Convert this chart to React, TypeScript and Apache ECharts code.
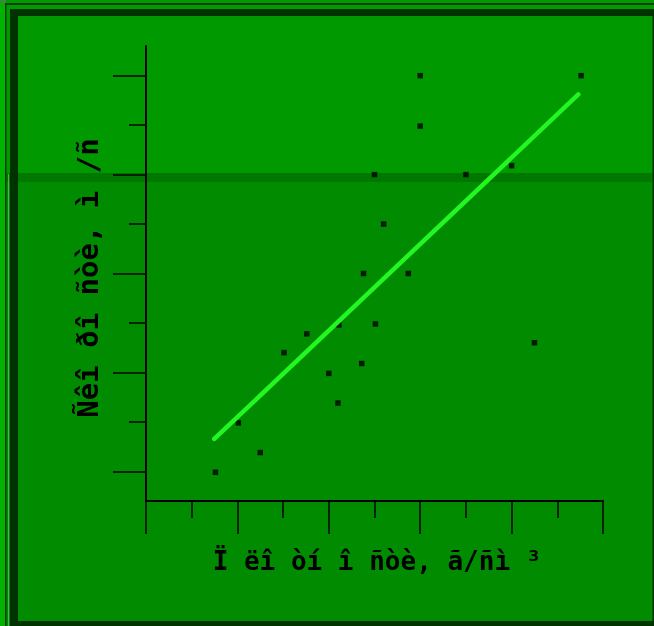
import React, { useEffect, useRef } from "react";
import * as echarts from "echarts";

// Scatter data: x (density), y (velocity), arbitrary units
const pointX = [3.0, 4.76, 3.0, 2.5, 3.5, 4.0, 2.6, 2.38, 2.87, 2.11, 2.51, 1.76, 1.51, 4.25, 2.36, 2.0, 2.1, 1.01, 1.25, 0.76];
const pointY = [5.0, 5.0, 4.49, 4.0, 4.0, 4.09, 3.5, 3.0, 3.0, 2.48, 2.49, 2.39, 2.2, 2.3, 2.09, 1.99, 1.69, 1.49, 1.19, 0.99];

// Regression line end points
const fitX = [0.747, 4.73];
const fitY = [1.327, 4.81];

// Tick values
const yMajorTicks = [1, 2, 3, 4, 5];
const yMinorTicks = [1.5, 2.5, 3.5, 4.5];

const xTitle = "Ï ëî òí î ñòè, ã/ñì ³";
const yTitle = "Ñêî ðî ñòè, ì /ñ";

export default function App() {
  const ref = useRef<HTMLDivElement>(null);
  useEffect(() => {
    if (!ref.current) return;
    const chart = echarts.init(ref.current, null, { renderer: "svg" });
    const W = 654;
    const H = 626;
    const bg = (x: number, y: number, w: number, h: number, fill: string) => ({
      type: "rect",
      z: -10,
      silent: true,
      shape: { x, y, width: w, height: h },
      style: { fill },
    });
    const option: any = {
      animation: false,
      backgroundColor: "transparent",
      graphic: [
        bg(0, 0, W, H, "#009900"),
        bg(0, 178, W, H - 178, "#008b00"),
        bg(0, 173, W, 9, "#007800"),
        bg(0, 0, 5, H, "#00b300"),
        bg(0, 0, 6, 3, "#3a8a3a"),
        bg(5, 3, W - 5, 2, "#004000"),
        bg(5, 3, 1.5, H, "#004000"),
        bg(8, 174, 1, H - 174, "#5fa55f"),
        bg(10, 9, 8, H - 9, "#003300"),
        bg(10, 9, W - 10, 7, "#003300"),
        bg(10, 621, W - 10, 5, "#003300"),
        bg(652.5, 9, 1.5, H - 9, "#003300"),
        {
          type: "text",
          z: 10,
          x: 377,
          y: 561,
          style: {
            text: xTitle,
            fill: "#000",
            font: 'bold 26px "DejaVu Sans Mono", monospace',
            align: "center",
            verticalAlign: "middle",
          },
        },
        {
          type: "text",
          z: 10,
          x: 88,
          y: 278,
          rotation: Math.PI / 2,
          style: {
            text: yTitle,
            fill: "#000",
            font: 'bold 29px "DejaVu Sans Mono", monospace',
            align: "center",
            verticalAlign: "middle",
          },
        },
      ],
      grid: { left: 146, right: 51, top: 46, bottom: 125, containLabel: false },
      xAxis: {
        type: "value",
        min: 0,
        max: 5,
        interval: 1,
        axisLine: { show: true, lineStyle: { color: "#000", width: 2 } },
        axisTick: { show: true, length: 33, lineStyle: { color: "#000", width: 1.5 } },
        minorTick: { show: true, splitNumber: 2, length: 17, lineStyle: { color: "#000", width: 1.5 } },
        axisLabel: { show: false },
        splitLine: { show: false },
        minorSplitLine: { show: false },
      },
      yAxis: [
        {
          type: "value",
          min: 0.7,
          max: 5.3,
          position: "left",
          axisLine: { show: true, onZero: false, lineStyle: { color: "#000", width: 2 } },
          axisTick: { show: true, customValues: yMajorTicks, length: 33, lineStyle: { color: "#000", width: 1.5 } },
          axisLabel: { show: false, customValues: yMajorTicks },
          splitLine: { show: false },
        },
        {
          type: "value",
          min: 0.7,
          max: 5.3,
          position: "left",
          axisLine: { show: false },
          axisTick: { show: true, customValues: yMinorTicks, length: 17, lineStyle: { color: "#000", width: 1.5 } },
          axisLabel: { show: false, customValues: yMinorTicks },
          splitLine: { show: false },
        },
      ],
      series: [
        {
          type: "scatter",
          symbol: "rect",
          symbolSize: 5.5,
          itemStyle: { color: "#000" },
          data: pointX.map((x, i) => [x, pointY[i]]),
          z: 2,
        },
        {
          type: "line",
          symbol: "none",
          lineStyle: { color: "#22f722", width: 4.5, cap: "round" },
          data: fitX.map((x, i) => [x, fitY[i]]),
          z: 3,
        },
      ],
    };
    chart.setOption(option);
    return () => chart.dispose();
  }, []);
  return <div ref={ref} style={{ position: "fixed", left: 0, top: 0, width: 654, height: 626 }} />;
}
